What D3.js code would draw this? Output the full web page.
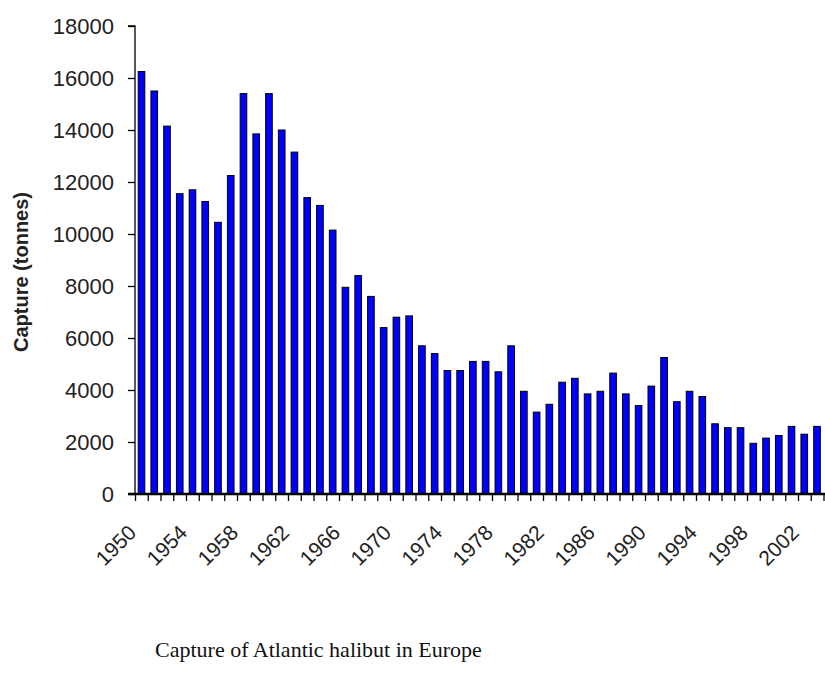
<!DOCTYPE html>
<html>
<head>
<meta charset="utf-8">
<script src="https://cdn.jsdelivr.net/npm/d3@7"></script>
<style>
  body { margin: 0; background: #fff; }
  svg { display: block; }
</style>
</head>
<body>
<svg width="825" height="680"></svg>
<script>
// years 1950..2004, capture in tonnes
var years = d3.range(1950, 2005);
var capture = [16250, 15500, 14150, 11550, 11700, 11250, 10450, 12250, 15400, 13850,
               15400, 14000, 13150, 11400, 11100, 10150, 7950, 8400, 7600, 6400,
               6800, 6850, 5700, 5400, 4750, 4750, 5100, 5100, 4700, 5700,
               3950, 3150, 3450, 4300, 4450, 3850, 3950, 4650, 3850, 3400,
               4150, 5250, 3550, 3950, 3750, 2700, 2550, 2550, 1950, 2150,
               2250, 2600, 2300, 2600, 2600];
var yTicks = [0, 2000, 4000, 6000, 8000, 10000, 12000, 14000, 16000, 18000];
var labelYears = d3.range(1950, 2003, 4);

var data = years.map(function(y, i) { return {year: y, value: capture[i]}; });

var svg = d3.select("svg");
var plotLeft = 135, plotBottom = 494, plotTop = 26;

var x = d3.scaleBand()
    .domain(years)
    .range([plotLeft, plotLeft + 55 * 12.75])
    .paddingInner(0.48)
    .paddingOuter(0.25);

// tick marks sit between the bars
var xIdx = d3.scaleLinear().domain([0, years.length]).range(x.range());

var y = d3.scaleLinear().domain([0, 18000]).range([plotBottom, plotTop]);

svg.append("g")
    .selectAll("rect")
    .data(data)
  .enter().append("rect")
    .attr("x", function(d) { return x(d.year); })
    .attr("y", function(d) { return y(d.value); })
    .attr("width", x.bandwidth())
    .attr("height", function(d) { return plotBottom - y(d.value); })
    .style("fill", "#0000ff")
    .style("stroke", "#000")
    .style("stroke-width", 1);

// y axis
var yAxis = svg.append("g")
    .attr("transform", "translate(" + plotLeft + ",0)")
    .call(d3.axisLeft(y).tickValues(yTicks).tickSize(7).tickPadding(14).tickFormat(d3.format("d")));
yAxis.select(".domain").attr("d", "M-7," + plotTop + "H0V" + plotBottom)
    .style("stroke", "#000").style("stroke-width", 1.3);
yAxis.selectAll(".tick line").style("stroke", "#000").style("stroke-width", 1.3);
yAxis.selectAll("text")
    .style("font-family", "'Liberation Sans', Arial, sans-serif")
    .style("font-size", "22px")
    .style("fill", "#222");

// x axis
var xAxis = svg.append("g")
    .attr("transform", "translate(0," + plotBottom + ")")
    .call(d3.axisBottom(xIdx).tickValues(d3.range(0, years.length + 1)).tickSize(7).tickFormat(""));
xAxis.select(".domain").attr("d", "M" + (plotLeft - 7) + ",0H825")
    .style("stroke", "#000").style("stroke-width", 2.5);
xAxis.selectAll(".tick line").style("stroke", "#000").style("stroke-width", 1.3);

svg.append("g")
    .selectAll("text")
    .data(labelYears)
  .enter().append("text")
    .attr("transform", function(d) {
      return "translate(" + (x(d) + x.bandwidth() / 2 - 4) + "," + (plotBottom + 40) + ") rotate(-45)";
    })
    .attr("text-anchor", "end")
    .style("font-family", "'Liberation Sans', Arial, sans-serif")
    .style("font-size", "21px")
    .style("fill", "#222")
    .text(function(d) { return d; });

// axis title
svg.append("text")
    .attr("transform", "translate(28,272) rotate(-90)")
    .attr("text-anchor", "middle")
    .style("font-family", "'Liberation Sans', Arial, sans-serif")
    .style("font-size", "20px")
    .style("font-weight", "bold")
    .style("fill", "#222")
    .text("Capture (tonnes)");

// caption
svg.append("text")
    .attr("x", 155)
    .attr("y", 657)
    .style("font-family", "'Liberation Serif', 'Times New Roman', serif")
    .style("font-size", "22px")
    .style("fill", "#111")
    .text("Capture of Atlantic halibut in Europe");
</script>
</body>
</html>
